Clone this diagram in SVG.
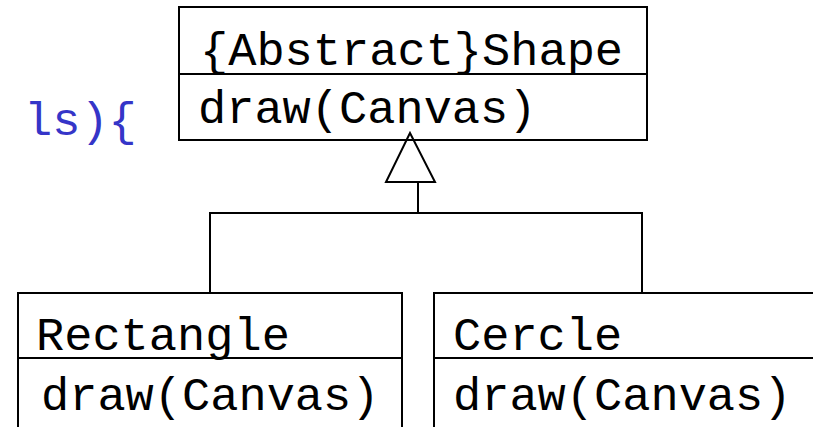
<svg xmlns="http://www.w3.org/2000/svg" width="813" height="427" viewBox="0 0 813 427">
<style>
.box{fill:#fff;stroke:#000;stroke-width:2}
.ln{fill:none;stroke:#000;stroke-width:2}
.t{font-family:"Liberation Mono","Courier New",monospace;font-size:47px;fill:#000}
.b{font-family:"Liberation Mono","Courier New",monospace;font-size:47px;fill:#3535c8}
</style>
<rect width="813" height="427" fill="#fff"/>
<text class="b" x="24" y="135">ls){</text>
<g id="shape">
<rect class="box" x="179" y="7" width="468" height="133"/>
<line class="ln" x1="179" y1="74" x2="647" y2="74"/>
<text class="t" x="200" y="65">{Abstract}Shape</text>
<text class="t" x="198" y="123">draw(Canvas)</text>
</g>
<g id="rectangle">
<rect class="box" x="18" y="293" width="384" height="150"/>
<line class="ln" x1="18" y1="358" x2="402" y2="358"/>
<text class="t" x="36" y="350">Rectangle</text>
<text class="t" x="41" y="410">draw(Canvas)</text>
</g>
<g id="cercle">
<rect class="box" x="434" y="293" width="400" height="150"/>
<line class="ln" x1="434" y1="358" x2="834" y2="358"/>
<text class="t" x="453" y="350">Cercle</text>
<text class="t" x="453" y="410">draw(Canvas)</text>
</g>
<g id="connectors">
<polyline class="ln" points="210,293 210,213 642,213 642,293"/>
<line class="ln" x1="418" y1="182" x2="418" y2="213"/>
<polygon class="ln" points="410,133 386,182 435,182"/>
</g>
</svg>
